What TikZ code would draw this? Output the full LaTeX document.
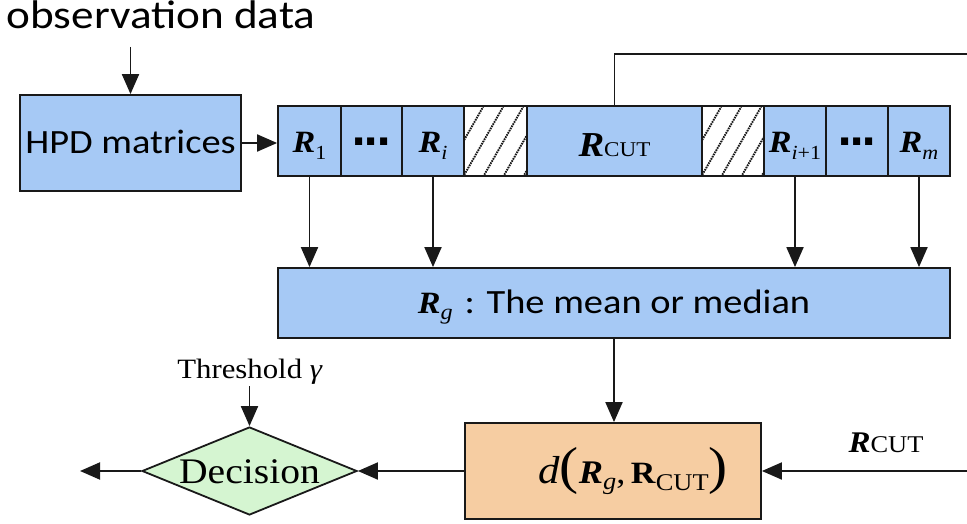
\documentclass[tikz,border=0pt]{standalone}
\usepackage{fontspec}
\setmainfont[FakeStretch=1.1]{Liberation Serif}
\newfontfamily\calfont[FakeStretch=1.13]{Carlito}
\newfontfamily\dotfont{DejaVu Sans}
\usetikzlibrary{arrows.meta,shapes.geometric}
\definecolor{boxblue}{RGB}{166,201,245}
\definecolor{boxorange}{RGB}{246,205,162}
\definecolor{boxgreen}{RGB}{213,245,209}
\definecolor{ink}{RGB}{25,25,25}
\newcommand{\dn}[2]{\smash{\raisebox{-#1}{#2}}}
\newcommand{\fs}[1]{\fontsize{#1pt}{#1pt}\selectfont}
\newcommand{\BR}[1]{{\fs{#1}\textbf{\textit{R}}}}
\newcommand{\cellR}[1]{\BR{31}\raisebox{-7pt}{\fs{20}#1}}
\newcommand{\threedots}{{\dotfont\bfseries\fs{40}.\kern-3pt.\kern-3pt.}}
\begin{document}
\begin{tikzpicture}[x=1pt,y=-1pt,
  box/.style={draw=ink,line width=1.8pt,inner sep=0pt,fill=boxblue},
  cell/.style={box,minimum height=70pt},
  arr/.style={draw=ink,line width=1.9pt,-{Triangle[length=20pt,width=17pt]}},
  wire/.style={draw=ink,line width=1.9pt},
  hatchline/.style={draw=ink,line width=1.9pt,dash pattern=on 1.6pt off 0.9pt}]
\useasboundingbox (0,0) rectangle (967,524);

% top input
\node[font=\calfont\fs{40},anchor=base] (obs) at (161,29) {observation data};
\node[box,minimum width=221pt,minimum height=96pt,font=\calfont\fs{34}] (hpd) at (130.5,143) {\dn{11pt}{HPD matrices}};

% row of cells
\node[cell,minimum width=63pt] (r1) at (309.5,141) {\dn{12pt}{\cellR{1}}};
\node[cell,minimum width=61pt] (d1) at (371.5,141) {\dn{5pt}{\threedots}};
\node[cell,minimum width=62pt] (ri) at (433,141) {\dn{12pt}{\cellR{\textit{i}}}};
\node[cell,fill=white,minimum width=63pt] (h1) at (495.5,141) {};
\node[cell,minimum width=175pt] (rc) at (614.5,141) {\dn{16pt}{\BR{35}{\fs{21}CUT}}};
\node[cell,fill=white,minimum width=62pt] (h2) at (733,141) {};
\node[cell,minimum width=62pt] (ri1) at (795,141) {\dn{12pt}{\cellR{\textit{i}+1}}};
\node[cell,minimum width=62pt] (d2) at (857,141) {\dn{5pt}{\threedots}};
\node[cell,minimum width=62pt] (rm) at (919,141) {\dn{12pt}{\cellR{\textit{m}}}};

% hatching
\foreach \h in {h1,h2}{
  \begin{scope}
    \clip (\h.south west) rectangle (\h.north east);
    \foreach \k in {-3,...,3}
      \draw[hatchline] ([xshift=\k*20pt]\h.south west) -- ++(40,-70);
  \end{scope}
}

% aggregation box
\node[box,minimum width=672pt,minimum height=70pt] (rg) at (614,303)
  {\dn{10pt}{\BR{31}\raisebox{-6pt}{\fs{22}\textit{g}}\hspace{12pt}{\calfont\fs{34}: The mean or median}}};

% distance box
\node[box,fill=boxorange,minimum width=296pt,minimum height=96pt] (dist) at (613,471)
  {\dn{12pt}{\hspace*{40pt}{\fs{39}\textit{d}}{\fs{52}(}\BR{33}\raisebox{-6pt}{\fs{24}\textit{g}}{\fs{33},\,}{\fs{31}\textbf{R}}\raisebox{-7pt}{\fs{24}CUT}{\fs{52})}}};

% decision
\node[draw=ink,line width=1.8pt,fill=boxgreen,diamond,inner sep=0pt,minimum width=215pt,minimum height=88pt,font=\fs{36}] (dec) at (249.5,471)
  {\dn{12pt}{\makebox[0pt]{Decision}}};
\node[anchor=base,font=\fs{28}] (thr) at (250,378) {Threshold \textit{γ}};
\node[anchor=base] (rcl) at (886,452) {\BR{30}{\fs{24}CUT}};

\coordinate (e1) at (967,54);
\coordinate (e2) at (967,471);
\coordinate (out) at (80,471);

% connectors
\draw[arr] ([yshift=-18pt]obs.base -| hpd.north) -- (hpd.north);
\draw[arr] (hpd.east) -- (hpd.east -| r1.west);
\foreach \c in {r1,ri,ri1,rm}
  \draw[arr] (\c.south) -- (\c.south |- rg.north);
\draw[wire] (rc.north) |- (e1);
\draw[arr] (rg.south) -- (rg.south |- dist.north);
\draw[arr] (e2) -- (dist.east);
\draw[arr] (dist.west) -- (dec.east);
\draw[arr] (dec.west) -- (out);
\draw[arr] ([yshift=-8pt]thr.base -| dec.north) -- (dec.north);
\end{tikzpicture}
\end{document}
